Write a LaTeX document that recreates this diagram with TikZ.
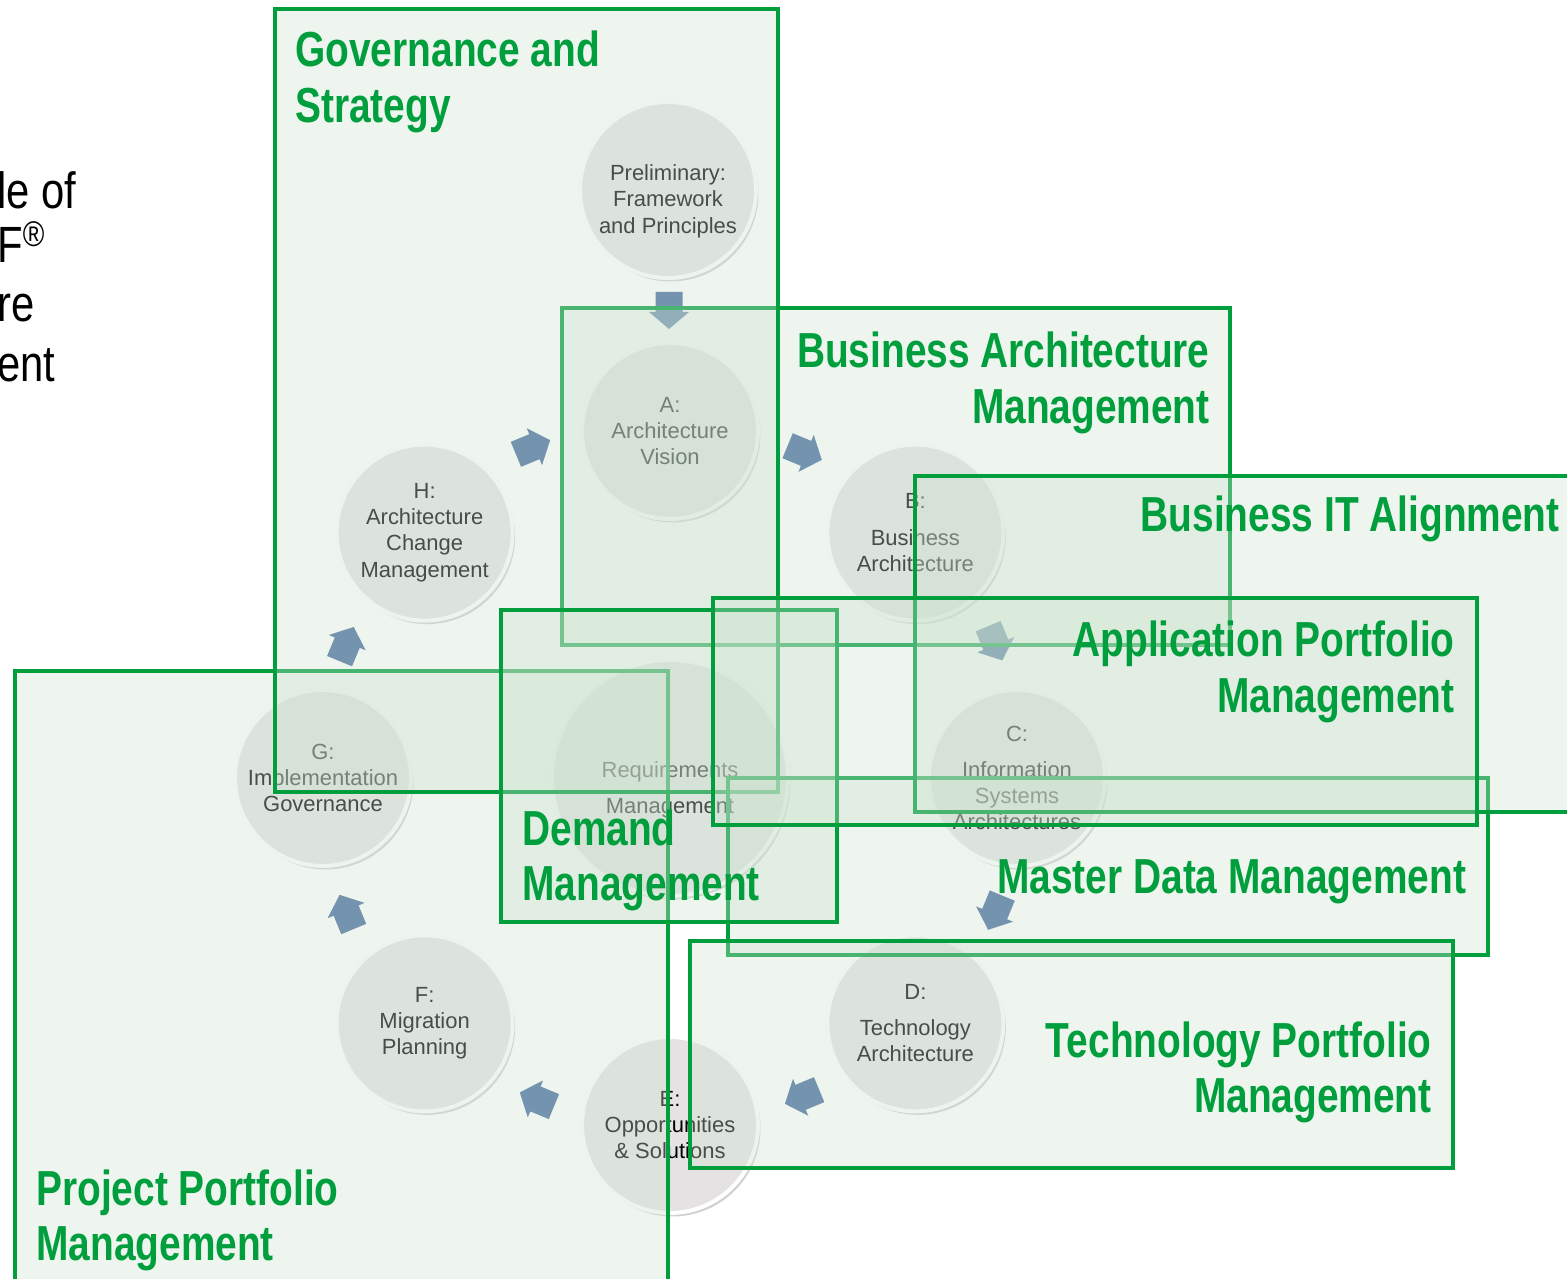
\documentclass[tikz,border=0pt]{standalone}
\usepackage{fontspec}
\setmainfont{Liberation Sans}
\newfontfamily\narrowfont[FakeStretch=0.79]{Liberation Sans}
\newfontfamily\leadfont[FakeStretch=0.82]{Liberation Sans}
\usetikzlibrary{calc,shadows}

\definecolor{framegreen}{RGB}{0,158,61}
\definecolor{panelgreen}{RGB}{204,226,206}
\definecolor{phasegray}{RGB}{229,226,228}
\definecolor{flowblue}{RGB}{70,105,157}

\tikzset{
  phase/.style={circle, minimum size=3.52cm, inner sep=0pt, fill=phasegray,
    draw=white, line width=0.08cm, align=center, text=black,
    font=\fontsize{12.5}{14.9}\selectfont,
    drop shadow={shadow xshift=0.05cm, shadow yshift=-0.07cm, opacity=0.3, fill=black!60}},
  panel/.style={draw=framegreen, line width=0.09cm, fill=panelgreen, fill opacity=0.35},
  paneltitle/.style={inner sep=0pt, text=framegreen,
    font=\narrowfont\bfseries\fontsize{28}{31.7}\selectfont},
  flowarrow/.pic={
    \fill[flowblue] (-18.5,-13.5) -- (1.5,-13.5) -- (1.5,-20) -- (18.5,0)
      -- (1.5,20) -- (1.5,13.5) -- (-18.5,13.5) -- cycle;
  }
}

\begin{document}
\begin{tikzpicture}[x=0.02cm, y=0.02cm]
    \useasboundingbox (0,0) rectangle (1567,1278);

    % cut-off heading on the left
    \node[anchor=north west, inner sep=0pt, align=left,
      font=\leadfont\fontsize{29}{34}\selectfont] (lead) at (-3,1107)
      {le of\\[-3.4pt]F\textsuperscript{®}\\re\\ent};

    % ADM cycle
    \node[phase, minimum size=4.72cm] (req) at (670,500) {\mbox{}\\[8pt]Requirements\\[0.2cm]Management};
    \node[phase] (a) at ($(req)+(90:347)$) {A:\\Architecture\\Vision};
    \node[phase] (b) at ($(req)+(45:347)$) {B:\\[0.2cm]Business\\Architecture};
    \node[phase] (c) at ($(req)+(0:347)$) {C:\\[0.2cm]Information\\Systems\\Architectures};
    \node[phase] (d) at ($(req)+(-45:347)$) {D:\\[0.2cm]Technology\\Architecture};
    \node[phase] (e) at ($(req)+(-90:347)$) {E:\\Opportunities\\\& Solutions};
    \node[phase] (f) at ($(req)+(-135:347)$) {F:\\Migration\\Planning};
    \node[phase] (g) at ($(req)+(180:347)$) {G:\\Implementation\\Governance};
    \node[phase] (h) at ($(req)+(135:347)$) {H:\\Architecture\\Change\\Management};
    \node[phase] (prelim) at (668,1088) {\mbox{}\\[7pt]Preliminary:\\Framework\\and Principles};

    \pic[rotate=-90] at ($(prelim)!0.5!(a)$) {flowarrow};
    \pic[rotate=-22.5] at ($(req)+(67.5:352)$) {flowarrow};
    \pic[rotate=-67.5] at ($(req)+(22.5:352)$) {flowarrow};
    \pic[rotate=-112.5] at ($(req)+(-22.5:352)$) {flowarrow};
    \pic[rotate=-157.5] at ($(req)+(-67.5:345)$) {flowarrow};
    \pic[rotate=157.5] at ($(req)+(-112.5:348)$) {flowarrow};
    \pic[rotate=112.5] at ($(req)+(-157.5:350)$) {flowarrow};
    \pic[rotate=67.5] at ($(req)+(157.5:350)$) {flowarrow};
    \pic[rotate=22.5] at ($(req)+(112.5:358)$) {flowarrow};

    % management areas
    \draw[panel] (562,970) rectangle (1230,633);
    \node[paneltitle, anchor=north east, align=right] (bamtitle) at (1210,946)
      {Business Architecture\\Management};

    \draw[panel] (15,607) rectangle (668,-20);
    \node[paneltitle, anchor=north west, align=left] (ppmtitle) at (36,109)
      {Project Portfolio\\Management};

    \draw[panel] (275,1269) rectangle (778,486);
    \node[paneltitle, anchor=north west, align=left] (govtitle) at (295,1247)
      {Governance and\\Strategy};

    \draw[panel] (728,500) rectangle (1488,323);
    \node[paneltitle, anchor=north west] (mdmtitle) at (997,419) {Master Data Management};

    \draw[panel] (501,668) rectangle (837,356);
    \node[paneltitle, anchor=north west, align=left] (demtitle) at (522,469)
      {Demand\\Management};

    \draw[panel] (915,802) rectangle (1590,466);
    \node[paneltitle, anchor=north east] (bittitle) at (1560,782) {Business IT Alignment};

    \draw[panel] (713,680) rectangle (1477,453);
    \node[paneltitle, anchor=north east, align=right] (apmtitle) at (1455,657)
      {Application Portfolio\\Management};

    \draw[panel] (690,337) rectangle (1453,110);
    \node[paneltitle, anchor=north east, align=right] (tpmtitle) at (1432,257)
      {Technology Portfolio\\Management};
\end{tikzpicture}
\end{document}
